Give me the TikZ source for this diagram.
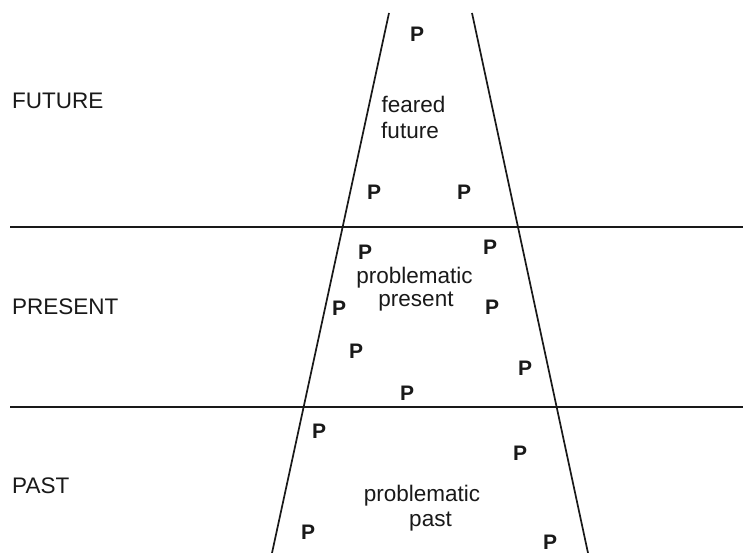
\documentclass[tikz,border=0pt]{standalone}
\usepackage{fontspec}
\setmainfont{Liberation Sans}
\begin{document}
\begin{tikzpicture}[x=1pt,y=-1pt,
  rule/.style={line width=1.7pt,draw=black!90},
  era/.style={anchor=west,inner sep=0pt,font=\fontsize{22.5}{26}\selectfont,text=black!90},
  word/.style={anchor=base,inner sep=0pt,font=\fontsize{22.5}{26}\selectfont,text=black!90},
  pmark/.style={inner sep=0pt,font=\fontsize{21}{25}\selectfont\bfseries,text=black!90}]
\useasboundingbox[fill=white] (0,0) rectangle (743,553);
% horizontal rules
\coordinate (h1l) at (10,227); \coordinate (h1r) at (743,227);
\coordinate (h2l) at (10,407); \coordinate (h2r) at (743,407);
\draw[rule] (h1l) -- (h1r);
\draw[rule] (h2l) -- (h2r);
% cone
\coordinate (lt) at (389,13); \coordinate (lb) at (272,553);
\coordinate (rt) at (472,13); \coordinate (rb) at (588,553);
\draw[rule] (lt) -- (lb);
\draw[rule] (rt) -- (rb);
% era labels
\node[era] (future) at (12,101) {FUTURE};
\node[era] (present) at (12,307) {PRESENT};
\node[era] (past) at (12,486) {PAST};
% inner texts
\node[word] (ff1) at (413.5,113) {feared};
\node[word] (ff2) at (410,139) {future};
\node[word] (pp1) at (414.5,283) {problematic};
\node[word] (pp2) at (416,306) {present};
\node[word] (pa1) at (422,501) {problematic};
\node[word] (pa2) at (430.5,526) {past};
% P marks
\node[pmark] (p1) at (417,34) {P};
\node[pmark] (p2) at (374,192) {P};
\node[pmark] (p3) at (464,192) {P};
\node[pmark] (p4) at (365,252) {P};
\node[pmark] (p5) at (490,247) {P};
\node[pmark] (p6) at (339,308) {P};
\node[pmark] (p7) at (492,307) {P};
\node[pmark] (p8) at (356,351) {P};
\node[pmark] (p9) at (525,368) {P};
\node[pmark] (p10) at (407,393) {P};
\node[pmark] (p11) at (319,431) {P};
\node[pmark] (p12) at (520,453) {P};
\node[pmark] (p13) at (308,532) {P};
\node[pmark] (p14) at (550,542) {P};
\end{tikzpicture}
\end{document}
